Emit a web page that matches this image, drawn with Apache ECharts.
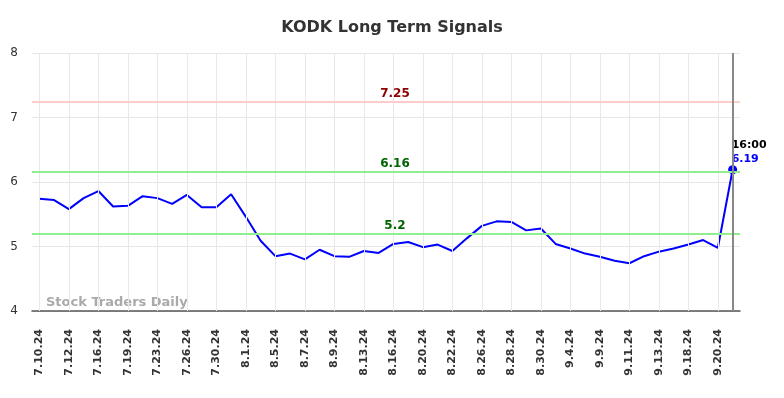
<!DOCTYPE html>
<html>
<head>
<meta charset="utf-8">
<title>KODK Long Term Signals</title>
<script src="https://cdn.jsdelivr.net/npm/echarts@6/dist/echarts.min.js"></script>
<style>
  html, body { margin: 0; padding: 0; background: #fff; }
  #chart { width: 784px; height: 398px; }
</style>
</head>
<body>
<div id="chart"></div>
<script>
// trading days shown on the axis (every other one gets a label), last one is the intraday point
const dates = [
  '7.10.24', '7.11.24', '7.12.24', '7.15.24', '7.16.24', '7.18.24', '7.19.24', '7.22.24',
  '7.23.24', '7.25.24', '7.26.24', '7.29.24', '7.30.24', '7.31.24', '8.1.24', '8.2.24',
  '8.5.24', '8.6.24', '8.7.24', '8.8.24', '8.9.24', '8.12.24', '8.13.24', '8.15.24',
  '8.16.24', '8.19.24', '8.20.24', '8.21.24', '8.22.24', '8.23.24', '8.26.24', '8.27.24',
  '8.28.24', '8.29.24', '8.30.24', '9.3.24', '9.4.24', '9.6.24', '9.9.24', '9.10.24',
  '9.11.24', '9.12.24', '9.13.24', '9.17.24', '9.18.24', '9.19.24', '9.20.24', '16:00'
]
const prices = [
  5.74, 5.72, 5.58, 5.75, 5.86, 5.62, 5.63, 5.78,
  5.75, 5.66, 5.80, 5.61, 5.61, 5.81, 5.46, 5.09,
  4.85, 4.89, 4.80, 4.95, 4.85, 4.84, 4.93, 4.90,
  5.04, 5.07, 4.99, 5.03, 4.93, 5.13, 5.32, 5.39,
  5.38, 5.25, 5.28, 5.04, 4.97, 4.89, 4.84, 4.78,
  4.74, 4.85, 4.92, 4.97, 5.03, 5.10, 4.98, 6.19
]
const resistance = [7.25]
const supports = [6.16, 5.2]
const yTicks = [4, 5, 6, 7, 8]

const chart = echarts.init(document.getElementById('chart'))
const font = 'DejaVu Sans'
const last = prices.length - 1

const priceData = prices.map((v, i) => {
  if (i !== last) return v
  return {
    value: v,
    symbol: 'circle',
    symbolSize: 9,
    label: {
      show: true,
      position: 'top',
      align: 'left',
      distance: 2,
      offset: [-1, 3],
      formatter: '{t|' + dates[last] + '}\n{v|' + v.toFixed(2) + '}',
      rich: {
        t: { color: '#000', fontWeight: 'bold', fontSize: 11, fontFamily: font, lineHeight: 14 },
        v: { color: '#0000ff', fontWeight: 'bold', fontSize: 11, fontFamily: font, lineHeight: 14 }
      }
    }
  }
})

const levelLine = (val, lineColor, textColor) => ({
  yAxis: val,
  lineStyle: { color: lineColor, width: 2, type: 'solid' },
  label: {
    show: true,
    position: 'middle',
    formatter: String(val),
    color: textColor,
    fontWeight: 'bold',
    fontSize: 12,
    fontFamily: font,
    distance: 2,
    padding: [0, 0, 0, 18]
  }
})

chart.setOption({
  animation: false,
  title: {
    text: 'KODK Long Term Signals',
    left: 'center',
    top: 15,
    textStyle: { fontFamily: font, fontSize: 16, fontWeight: 'bold', color: '#333' }
  },
  grid: { left: 32, right: 44, top: 53, bottom: 87 },
  graphic: [{
    type: 'text',
    left: 46,
    top: 296,
    style: { text: 'Stock Traders Daily', fill: '#aaa', font: 'bold 13px "DejaVu Sans"' },
    z: 1
  }],
  xAxis: {
    type: 'category',
    data: dates,
    boundaryGap: true,
    axisLine: { lineStyle: { color: '#555', width: 1.5 } },
    axisTick: { show: false },
    splitLine: { show: false },
    axisLabel: {
      rotate: 90,
      interval: 1,
      margin: 18,
      color: '#333',
      fontSize: 11,
      fontWeight: 'bold',
      fontFamily: font
    }
  },
  yAxis: {
    type: 'value',
    min: yTicks[0],
    max: yTicks[yTicks.length - 1],
    interval: 1,
    axisLine: { show: false },
    axisTick: { show: false },
    axisLabel: { color: '#333', fontSize: 12, fontFamily: font, margin: 14 },
    splitLine: { lineStyle: { color: '#e6e6e6', width: 1 } }
  },
  series: [
    {
      // vertical grid at labelled days + signal levels, kept under the price line
      name: 'levels',
      type: 'line',
      data: prices,
      symbol: 'none',
      silent: true,
      lineStyle: { opacity: 0 },
      z: 1,
      markLine: {
        silent: true,
        symbol: ['none', 'none'],
        animation: false,
        data: dates.filter((d, i) => i % 2 === 0).map(d => ({
          xAxis: d,
          lineStyle: { color: '#e8e8e8', width: 1, type: 'solid' },
          label: { show: false }
        })).concat(
          resistance.map(v => levelLine(v, '#ffcccc', '#8b0000')),
          supports.map(v => levelLine(v, '#90ee90', '#006400'))
        )
      }
    },
    {
      name: 'KODK',
      type: 'line',
      data: priceData,
      symbol: 'none',
      color: '#0000ff',
      lineStyle: { color: '#0000ff', width: 2 },
      z: 3,
      markLine: {
        silent: true,
        symbol: ['none', 'none'],
        animation: false,
        data: [{
          xAxis: dates[last],
          lineStyle: { color: '#888', width: 2, type: 'solid' },
          label: { show: false }
        }]
      }
    }
  ]
})
</script>
</body>
</html>
